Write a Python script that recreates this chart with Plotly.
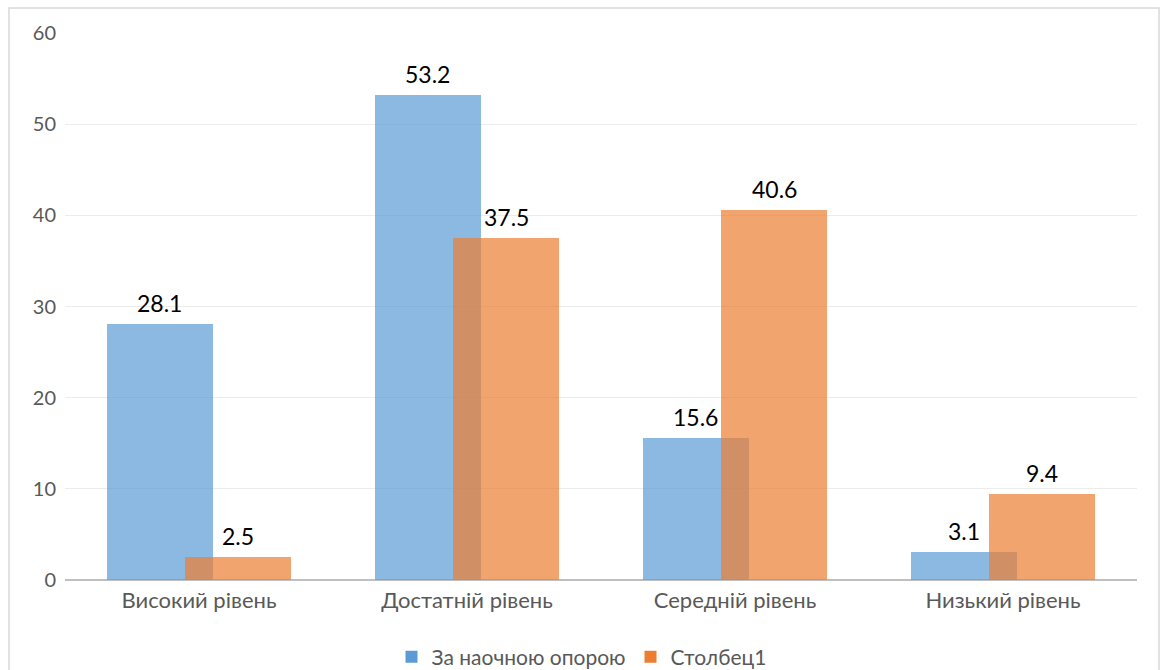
import plotly.graph_objects as go

categories = ["Високий рівень", "Достатній рівень", "Середній рівень", "Низький рівень"]
series_names = ["За наочною опорою", "Столбец1"]
visual_support = [28.1, 53.2, 15.6, 3.1]
column1 = [2.5, 37.5, 40.6, 9.4]
y_ticks = [0, 10, 20, 30, 40, 50, 60]

FONT = "Lato, 'Open Sans', sans-serif"
W, H = 1163, 670
L, R, T, B = 65, 26, 33, 90
plot_w = W - L - R
plot_h = H - T - B

bar_w = 0.396
offsets = [-0.344, -0.052]
series = [visual_support, column1]
colors = ["#5B9BD5", "#ED7D31"]

fig = go.Figure()
for name, vals, col, off in zip(series_names, series, colors, offsets):
    fig.add_trace(go.Bar(
        x=categories, y=vals, name=name,
        marker=dict(color=col, opacity=0.7, line=dict(width=0)),
        width=bar_w, offset=off,
        cliponaxis=False,
    ))
    # value labels centred over each bar
    for i, v in enumerate(vals):
        fig.add_annotation(
            x=i + off + bar_w / 2, y=v, xref="x", yref="y",
            text=f"{v:.1f}", showarrow=False,
            yanchor="bottom", yshift=5,
            font=dict(size=23, color="#000000", family=FONT),
        )

# outer chart frame
fig.add_shape(
    type="rect", xref="paper", yref="paper",
    x0=(9 - L) / plot_w, x1=(1159 - L) / plot_w,
    y0=-(H + 10 - T - plot_h) / plot_h, y1=(plot_h + T - 8) / plot_h,
    line=dict(color="#d9d9d9", width=1.5), fillcolor="rgba(0,0,0,0)", layer="below",
)

fig.update_layout(
    width=W, height=H,
    margin=dict(l=L, r=R, t=T, b=B),
    barmode="overlay",
    plot_bgcolor="white", paper_bgcolor="white",
    font=dict(family=FONT, color="#595959", size=20),
    showlegend=True,
    legend=dict(
        orientation="h", xref="container", yref="container",
        x=0.5, xanchor="center", y=(H - 657) / H, yanchor="middle",
        font=dict(size=21, color="#595959"), itemwidth=30,
        traceorder="normal",
    ),
    xaxis=dict(
        showgrid=False, showline=False, ticks="",
        tickfont=dict(size=22, color="#595959"),
        range=[-0.5, 3.5], ticklabelstandoff=5,
    ),
    yaxis=dict(
        range=[0, 60], tickvals=y_ticks,
        showgrid=True, gridcolor="#ececec", gridwidth=1,
        zeroline=True, zerolinecolor="#bfbfbf", zerolinewidth=2,
        showline=False, ticks="", ticklabelstandoff=8,
        tickfont=dict(size=20, color="#595959"),
    ),
    bargap=0,
)

fig.write_html("out.html")
